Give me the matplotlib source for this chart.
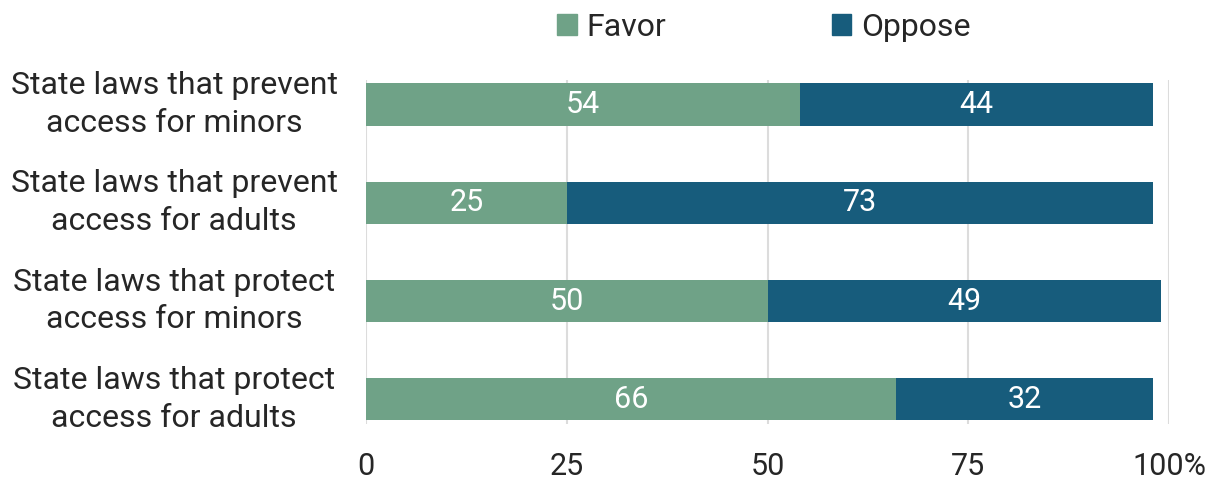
"""
Stacked bar chart: favor / oppose state laws on access
"""

import matplotlib
matplotlib.use('Agg')
import matplotlib.pyplot as plt
from matplotlib.patches import Patch

plt.rcParams['font.family'] = ['Roboto', 'DejaVu Sans']

categories = ['State laws that prevent\naccess for minors',
              'State laws that prevent\naccess for adults',
              'State laws that protect\naccess for minors',
              'State laws that protect\naccess for adults']
favor = [54, 25, 50, 66]
oppose = [44, 73, 49, 32]
x_ticks = [0, 25, 50, 75, 100]
x_tick_labels = ['0', '25', '50', '75', '100%']

FAVOR_COLOR = '#6fa287'
OPPOSE_COLOR = '#175c7c'
TEXT_COLOR = '#262626'

fig = plt.figure(figsize=(12.28, 4.79), dpi=100)
ax = fig.add_axes([0.298, 0.115, 0.654, 0.718])

y = list(range(len(categories)))
bars_f = ax.barh(y, favor, height=0.43, color=FAVOR_COLOR, zorder=3)
bars_o = ax.barh(y, oppose, left=favor, height=0.43, color=OPPOSE_COLOR, zorder=3)

for bars in (bars_f, bars_o):
    for bar in bars:
        w = bar.get_width()
        ax.text(bar.get_x() + w / 2, bar.get_y() + bar.get_height() / 2, f'{w:g}',
                ha='center', va='center', color='white', fontsize=22, zorder=4)

ax.set_xlim(0, 100)
ax.set_ylim(3.25, -0.25)
ax.set_xticks(x_ticks)
ax.set_xticklabels(x_tick_labels, fontsize=22, color=TEXT_COLOR)
ax.set_yticks(y)
ax.set_yticklabels(categories, fontsize=23, color=TEXT_COLOR, ha='center', va='center',
                   linespacing=1.38)
ax.tick_params(axis='y', length=0, pad=138)
ax.tick_params(axis='x', length=0, pad=20)
ax.grid(axis='x', color='#dcdcdc', linewidth=1.5, zorder=0)
for side in ('top', 'right', 'bottom', 'left'):
    ax.spines[side].set_visible(False)

handles = [Patch(color=FAVOR_COLOR, label='Favor'), Patch(color=OPPOSE_COLOR, label='Oppose')]
fig.legend(handles=handles, loc='center', bbox_to_anchor=(0.622, 0.943), ncol=2, frameon=False,
           fontsize=23, handlelength=0.6, handleheight=0.6, handletextpad=0.3,
           columnspacing=5.2, labelcolor=TEXT_COLOR)

plt.savefig('out.png', dpi=100)
